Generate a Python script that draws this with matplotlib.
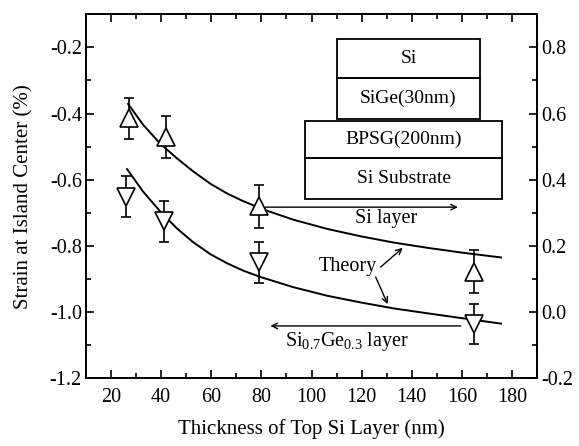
import matplotlib as mpl
import matplotlib.pyplot as plt
from matplotlib.patches import Rectangle
from matplotlib.ticker import MultipleLocator, FormatStrFormatter

# measured points (thickness in nm, strain in %)
si_thick = [27, 42, 79, 165]
si_strain = [-0.415, -0.470, -0.681, -0.878]
si_err = [0.062, 0.064, 0.064, 0.064]

sige_thick = [26, 41, 79, 165]
sige_strain = [-0.651, -0.726, -0.849, -1.036]
sige_err = [0.062, 0.062, 0.062, 0.061]

# theory curves
theory_si_x = [26.8, 32.8, 39.6, 46.4, 52.8, 59.6, 66.4, 72.8, 80.8, 92.8,
               106.4, 119.6, 132.8, 146.4, 159.6, 175.6]
theory_si_y = [-0.371, -0.434, -0.491, -0.536, -0.575, -0.612, -0.642, -0.665,
               -0.690, -0.721, -0.749, -0.771, -0.790, -0.806, -0.820, -0.835]
theory_sige_x = [26.4, 32.8, 39.6, 46.4, 52.8, 59.6, 66.4, 72.8, 79.6, 92.8,
                 106.4, 119.6, 132.8, 146.4, 159.6, 175.6]
theory_sige_y = [-0.568, -0.636, -0.696, -0.748, -0.789, -0.825, -0.853, -0.875,
                 -0.894, -0.925, -0.951, -0.971, -0.989, -1.004, -1.018, -1.035]

x_ticks = [20, 40, 60, 80, 100, 120, 140, 160, 180]
layer_labels = ["Si", "SiGe(30nm)", "BPSG(200nm)", "Si Substrate"]

mpl.rcParams.update({
    "font.family": "serif",
    "font.serif": ["Liberation Serif", "DejaVu Serif"],
    "mathtext.fontset": "custom",
    "mathtext.rm": "Liberation Serif",
    "mathtext.it": "Liberation Serif:italic",
    "axes.unicode_minus": False,
    "axes.linewidth": 1.3,
})

fig = plt.figure(figsize=(5.79, 4.46), dpi=100)
ax = fig.add_axes([0.1485, 0.152, 0.779, 0.816])

ax.plot(theory_si_x, theory_si_y, color="black", lw=1.4, zorder=2)
ax.plot(theory_sige_x, theory_sige_y, color="black", lw=1.4, zorder=2)

ax.errorbar(si_thick, si_strain, yerr=si_err, fmt="^", ms=12.5, mfc="white",
            mec="black", mew=1.2, ecolor="black", elinewidth=1.2, capsize=3.5,
            capthick=1.2, zorder=3)
ax.errorbar(sige_thick, sige_strain, yerr=sige_err, fmt="v", ms=12.5, mfc="white",
            mec="black", mew=1.2, ecolor="black", elinewidth=1.2, capsize=3.5,
            capthick=1.2, zorder=3)

ax.set_xlim(10, 190)
ax.set_ylim(-1.2, -0.1)
ax.set_xticks(x_ticks)
ax.xaxis.set_minor_locator(MultipleLocator(10))
ax.yaxis.set_major_locator(MultipleLocator(0.2))
ax.yaxis.set_minor_locator(MultipleLocator(0.1))
ax.yaxis.set_major_formatter(FormatStrFormatter("%.1f"))
ax.tick_params(which="both", direction="in", top=True, right=False,
               labelsize=14.5, width=1.2)
ax.tick_params(which="major", length=6)
ax.tick_params(which="minor", length=3.5)
ax.tick_params(axis="x", pad=7)
ax.tick_params(axis="y", pad=3)

ax2 = ax.twinx()
ax2.set_ylim(-0.2, 0.9)
ax2.yaxis.set_major_locator(MultipleLocator(0.2))
ax2.yaxis.set_minor_locator(MultipleLocator(0.1))
ax2.yaxis.set_major_formatter(FormatStrFormatter("%.1f"))
ax2.tick_params(which="both", direction="in", labelsize=14.5, width=1.2, pad=3)
ax2.tick_params(which="major", length=6)
ax2.tick_params(which="minor", length=3.5)

ax.set_xlabel("Thickness of Top Si Layer (nm)", fontsize=15, labelpad=9)
ax.set_ylabel("Strain at Island Center (%)", fontsize=15, labelpad=12)

# layer stack sketch
boxes = [(0.5565, 0.8242, 0.3171, 0.1071),
         (0.5565, 0.7115, 0.3171, 0.1127),
         (0.4856, 0.6044, 0.4368, 0.1016),
         (0.4856, 0.4918, 0.4368, 0.1126)]
for (bx, by, bw, bh), name in zip(boxes, layer_labels):
    ax.add_patch(Rectangle((bx, by), bw, bh, transform=ax.transAxes,
                           fill=False, ec="black", lw=1.3, zorder=4))
    ax.text(bx + bw / 2, by + bh / 2, name, transform=ax.transAxes,
            ha="center", va="center", fontsize=14)

arrow = dict(arrowstyle="->", color="black", lw=1.0, mutation_scale=10,
             shrinkA=0, shrinkB=0)
ax.annotate("", xy=(158.4, -0.683), xytext=(81.6, -0.683), arrowprops=arrow)
ax.text(129.6, -0.718, "Si layer", ha="center", va="center", fontsize=14.5)

ax.annotate("", xy=(83.6, -1.042), xytext=(159.6, -1.042), arrowprops=arrow)
ax.text(89.6, -1.089, r"Si$_{0.7}$Ge$_{0.3}$ layer", ha="left", va="center",
        fontsize=14.5)

ax.text(114.4, -0.862, "Theory", ha="center", va="center", fontsize=14.5)
ax.annotate("", xy=(136.4, -0.806), xytext=(127.6, -0.864), arrowprops=arrow)
ax.annotate("", xy=(130.4, -0.976), xytext=(125.6, -0.894), arrowprops=arrow)

fig.savefig("out.png", dpi=100)
